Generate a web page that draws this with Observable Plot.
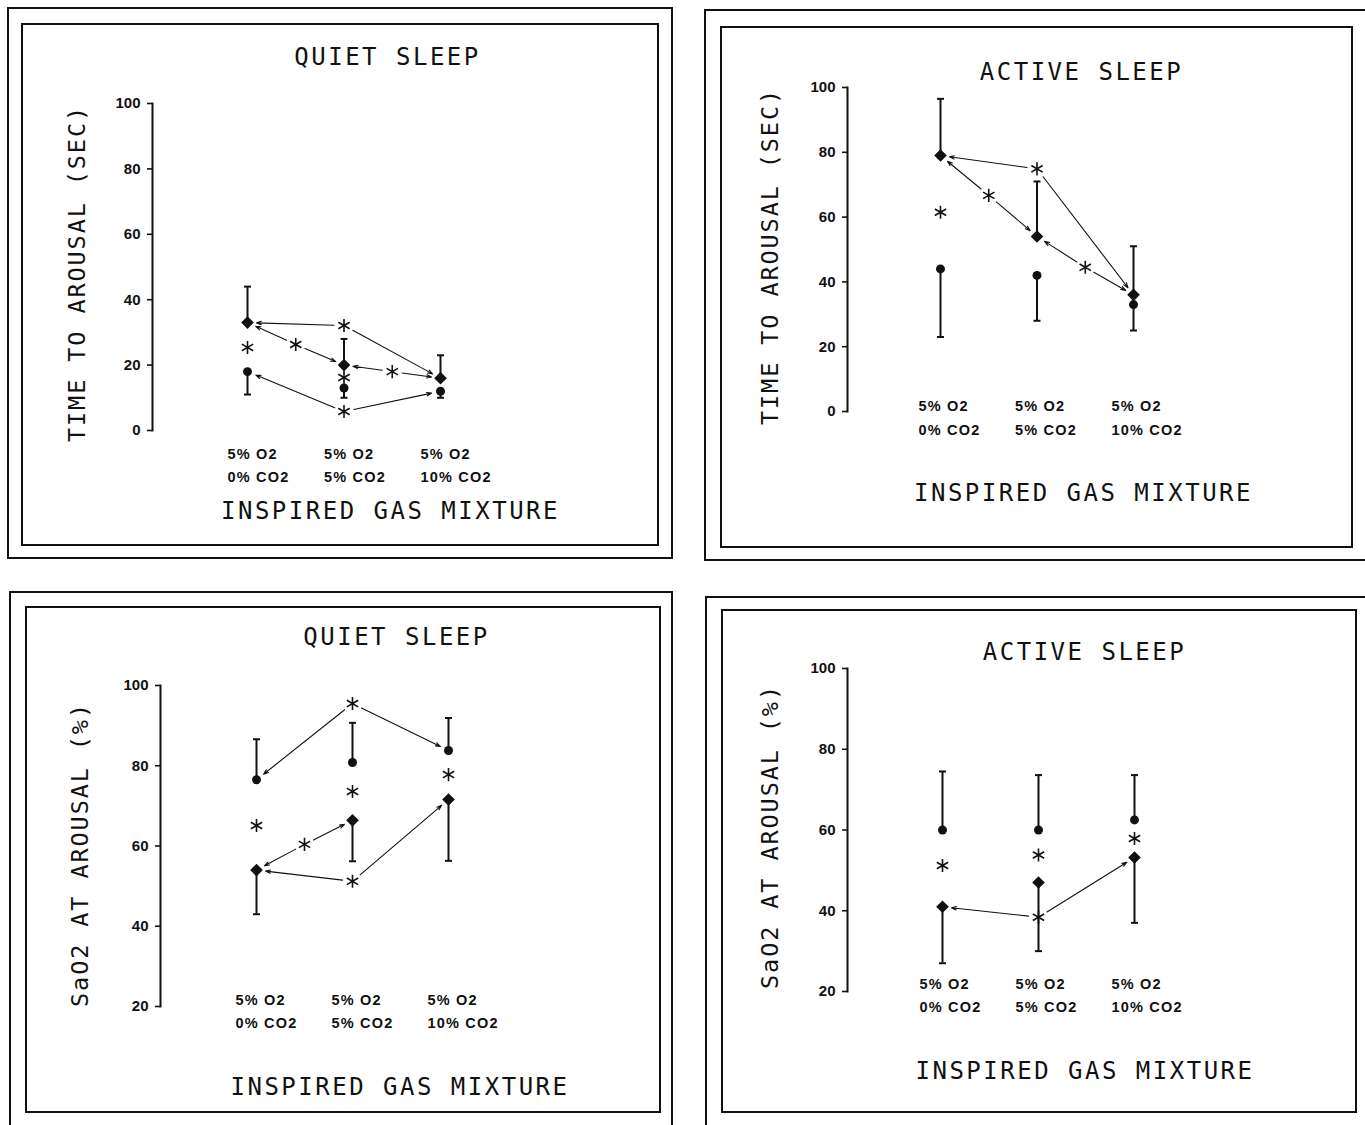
<!DOCTYPE html>
<html><head><meta charset="utf-8">
<script src="https://cdn.jsdelivr.net/npm/d3@7"></script>
<script src="https://cdn.jsdelivr.net/npm/@observablehq/plot@0.6"></script>
<style>
body{margin:0;background:#fff;}
#page{position:relative;width:1365px;height:1125px;overflow:hidden;background:#fff;}
.box{position:absolute;border:2px solid #111;box-sizing:border-box;pointer-events:none;}
.holder{position:absolute;}
</style></head><body><div id="page"></div>
<script>
// ---------------- DATA ----------------
const gasO2 = ["5% O2", "5% O2", "5% O2"];
const gasCO2 = ["0% CO2", "5% CO2", "10% CO2"];
const catIndex = [0, 1, 2];
const panelTitles = ["QUIET SLEEP", "ACTIVE SLEEP", "QUIET SLEEP", "ACTIVE SLEEP"];
const panelYLabels = ["TIME TO AROUSAL (SEC)", "TIME TO AROUSAL (SEC)", "SaO2 AT AROUSAL (%)", "SaO2 AT AROUSAL (%)"];
const xAxisLabel = "INSPIRED GAS MIXTURE";
const timeTicks = [0, 20, 40, 60, 80, 100];
const satTicks = [20, 40, 60, 80, 100];

// Quiet sleep – time to arousal
const qsTimeDiamond = [33, 20, 16];
const qsTimeDiamondBar = [44, 28, 23];
const qsTimeCircle = [18, 13, 12];
const qsTimeCircleBar = [11, 10, 10];
const qsTimeStarX = [0, 1, 0.5, 1.5, 1, 1];
const qsTimeStarY = [25.4, 32.1, 26.3, 18, 16.2, 5.8];
const qsTimeArrowFrom = [1, 1, 2, 2, 3, 3, 5, 5];
const qsTimeArrowSeries = ["d", "d", "d", "d", "d", "d", "c", "c"];
const qsTimeArrowTo = [0, 2, 0, 1, 1, 2, 0, 2];

// Active sleep – time to arousal
const asTimeDiamond = [79, 54, 36];
const asTimeDiamondBar = [96.5, 71, 51];
const asTimeCircle = [44, 42, 33];
const asTimeCircleBar = [23, 28, 25];
const asTimeStarX = [0, 1, 0.5, 1.5];
const asTimeStarY = [61.5, 74.9, 66.7, 44.5];
const asTimeArrowFrom = [1, 1, 2, 2, 3, 3];
const asTimeArrowSeries = ["d", "d", "d", "d", "d", "d"];
const asTimeArrowTo = [0, 2, 0, 1, 1, 2];

// Quiet sleep – SaO2 at arousal
const qsSatCircle = [76.5, 80.8, 83.8];
const qsSatCircleBar = [86.6, 90.7, 91.9];
const qsSatDiamond = [54, 66.4, 71.6];
const qsSatDiamondBar = [43, 56.2, 56.3];
const qsSatStarX = [1, 0, 1, 2, 0.5, 1];
const qsSatStarY = [95.5, 65.1, 73.6, 77.8, 60.4, 51.2];
const qsSatArrowFrom = [0, 0, 4, 4, 5, 5];
const qsSatArrowSeries = ["c", "c", "d", "d", "d", "d"];
const qsSatArrowTo = [0, 2, 0, 1, 0, 2];

// Active sleep – SaO2 at arousal
const asSatCircle = [60, 60, 62.5];
const asSatCircleBar = [74.5, 73.6, 73.6];
const asSatDiamond = [41, 47, 53.2];
const asSatDiamondBar = [27, 30, 37];
const asSatStarX = [0, 1, 2, 1];
const asSatStarY = [51.2, 53.8, 57.9, 38.4];
const asSatArrowFrom = [3, 3];
const asSatArrowSeries = ["d", "d"];
const asSatArrowTo = [0, 2];

// ---------------- LAYOUT (page pixels) ----------------
const layouts = [
  {outer:[8,8,672,558], inner:[22,24,658,545], axisX:152, yTop:103, yBot:430, cat0:247, step:96.5,
   titleX:387, titleY:57, xlabX:390, xlabY:511, catY1:454, catY2:477, catDx:-20, ylabX:77, ylabY:273},
  {outer:[705,10,1420,560], inner:[721,27,1352,547], axisX:847, yTop:87, yBot:411, cat0:940, step:96.5,
   titleX:1081, titleY:72, xlabX:1083, xlabY:493, catY1:406, catY2:430, catDx:-22, ylabX:770, ylabY:256},
  {outer:[10,592,672,1160], inner:[26,607,660,1112], axisX:160, yTop:685, yBot:1006, cat0:256, step:96,
   titleX:396, titleY:637, xlabX:399.5, xlabY:1087, catY1:1000, catY2:1023, catDx:-21, ylabX:80, ylabY:854},
  {outer:[706,597,1420,1160], inner:[722,610,1356,1112], axisX:847, yTop:668, yBot:991, cat0:942, step:96,
   titleX:1084, titleY:652, xlabX:1084.5, xlabY:1071, catY1:984, catY2:1007, catDx:-23, ylabX:770, ylabY:836}
];

const panels = [
  {d:qsTimeDiamond, dBar:qsTimeDiamondBar, c:qsTimeCircle, cBar:qsTimeCircleBar, sx:qsTimeStarX, sy:qsTimeStarY,
   af:qsTimeArrowFrom, as:qsTimeArrowSeries, at:qsTimeArrowTo, domain:[0,100], ticks:timeTicks},
  {d:asTimeDiamond, dBar:asTimeDiamondBar, c:asTimeCircle, cBar:asTimeCircleBar, sx:asTimeStarX, sy:asTimeStarY,
   af:asTimeArrowFrom, as:asTimeArrowSeries, at:asTimeArrowTo, domain:[0,100], ticks:timeTicks},
  {d:qsSatDiamond, dBar:qsSatDiamondBar, c:qsSatCircle, cBar:qsSatCircleBar, sx:qsSatStarX, sy:qsSatStarY,
   af:qsSatArrowFrom, as:qsSatArrowSeries, at:qsSatArrowTo, domain:[20,100], ticks:satTicks},
  {d:asSatDiamond, dBar:asSatDiamondBar, c:asSatCircle, cBar:asSatCircleBar, sx:asSatStarX, sy:asSatStarY,
   af:asSatArrowFrom, as:asSatArrowSeries, at:asSatArrowTo, domain:[20,100], ticks:satTicks}
];

const capSymbol = {draw(ctx, size){ const w = Math.sqrt(size/Math.PI); ctx.moveTo(-w,0); ctx.lineTo(w,0); }};
const MONO = "DejaVu Sans Mono";
const SANS = "Liberation Sans";
const page = document.getElementById("page");

function box(r){
  const el = document.createElement("div");
  el.className = "box";
  el.style.left = (r[0]-1)+"px"; el.style.top = (r[1]-1)+"px";
  el.style.width = (r[2]-r[0]+2)+"px"; el.style.height = (r[3]-r[1]+2)+"px";
  page.appendChild(el);
}

panels.forEach((p, k) => {
  const L = layouts[k];
  box(L.outer); box(L.inner);
  const W = L.inner[2]-L.inner[0], H = L.inner[3]-L.inner[1];
  const toX = px => (px - L.cat0)/L.step;
  const xMin = toX(L.axisX), xMax = toX(L.inner[2]-20);
  const stars = p.sx.map((x,i)=>({x, y:p.sy[i]}));
  const arrows = p.af.map((f,i)=>({x1:p.sx[f], y1:p.sy[f], x2:p.at[i], y2:(p.as[i]==="d"?p.d:p.c)[p.at[i]]}));
  const midY = (L.yTop+L.yBot)/2;
  const svg = Plot.plot({
    width: W, height: H,
    marginLeft: L.axisX - L.inner[0], marginRight: 20,
    marginTop: L.yTop - L.inner[1], marginBottom: L.inner[3] - L.yBot,
    x: {domain:[xMin, xMax]},
    y: {domain:p.domain},
    style: {fontFamily: SANS, background:"transparent", color:"#111", overflow:"visible"},
    marks: [
      Plot.frame({anchor:"left", strokeWidth:2, stroke:"#111"}),
      Plot.axisY(p.ticks, {tickSize:5, tickPadding:7, fontSize:15, fontWeight:"bold", strokeWidth:1.6, label:null, tickFormat:d=>String(d)}),
      Plot.axisX([], {label:null}),
      // error bars
      Plot.ruleX(catIndex, {x:i=>i, y1:i=>p.d[i], y2:i=>p.dBar[i], strokeWidth:2, stroke:"#111"}),
      Plot.ruleX(catIndex, {x:i=>i, y1:i=>p.c[i], y2:i=>p.cBar[i], strokeWidth:2, stroke:"#111"}),
      Plot.dot(catIndex, {x:i=>i, y:i=>p.dBar[i], symbol:capSymbol, r:3.5, stroke:"#111", strokeWidth:2, fill:"none"}),
      Plot.dot(catIndex, {x:i=>i, y:i=>p.cBar[i], symbol:capSymbol, r:3.5, stroke:"#111", strokeWidth:2, fill:"none"}),
      // arrows
      Plot.arrow(arrows, {x1:"x1", y1:"y1", x2:"x2", y2:"y2", insetStart:10, insetEnd:9, headLength:7, headAngle:38, strokeWidth:1.1, stroke:"#111"}),
      // markers
      Plot.dot(catIndex, {x:i=>i, y:i=>p.c[i], r:4.5, fill:"#111", stroke:"none"}),
      Plot.dot(catIndex, {x:i=>i, y:i=>p.d[i], symbol:"diamond2", r:5.7, fill:"#111", stroke:"none"}),
      // significance asterisks
      Plot.dot(stars, {x:"x", y:"y", symbol:"asterisk", r:6.2, stroke:"#111", strokeWidth:1.6}),
      // category labels
      Plot.text(catIndex, {x:i=>i, text:i=>gasO2[i], frameAnchor:"bottom", lineAnchor:"middle", dy:L.catY1-L.yBot, dx:L.catDx, textAnchor:"start", fontSize:14.5, fontWeight:"bold", fill:"#111"}),
      Plot.text(catIndex, {x:i=>i, text:i=>gasCO2[i], frameAnchor:"bottom", lineAnchor:"middle", dy:L.catY2-L.yBot, dx:L.catDx, textAnchor:"start", fontSize:14.5, fontWeight:"bold", fill:"#111"}),
      // titles and axis labels
      Plot.text([panelTitles[k]], {x:toX(L.titleX), frameAnchor:"top", lineAnchor:"middle", textAnchor:"middle", dy:L.titleY-L.yTop, fontFamily:MONO, fontSize:24, fill:"#111"}),
      Plot.text([xAxisLabel], {x:toX(L.xlabX), frameAnchor:"bottom", lineAnchor:"middle", textAnchor:"middle", dy:L.xlabY-L.yBot, fontFamily:MONO, fontSize:24, fill:"#111"}),
      Plot.text([panelYLabels[k]], {frameAnchor:"left", lineAnchor:"middle", textAnchor:"middle", dx:L.ylabX-L.axisX, dy:L.ylabY-midY, rotate:-90, fontFamily:MONO, fontSize:23.5, fill:"#111"})
    ]
  });
  d3.select(svg).selectAll(`g[font-family="${MONO}"] text`).attr("letter-spacing", "2.5px");
  d3.select(svg).selectAll(`g[font-size="23.5"] text`).attr("letter-spacing", "1.9px");
  d3.select(svg).selectAll(`g[font-size="14.5"] text`).attr("letter-spacing", "1.2px");
  const holder = document.createElement("div");
  holder.className = "holder";
  holder.style.left = L.inner[0]+"px"; holder.style.top = L.inner[1]+"px";
  holder.appendChild(svg);
  page.appendChild(holder);
});
</script></body></html>
